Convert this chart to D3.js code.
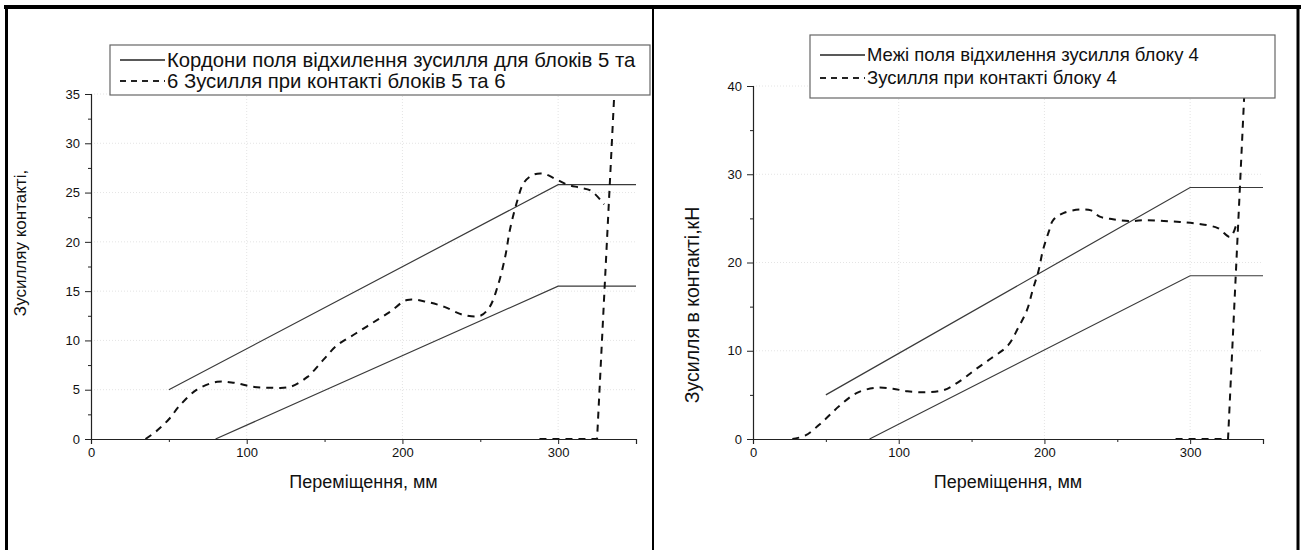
<!DOCTYPE html>
<html>
<head>
<meta charset="utf-8">
<script src="https://cdn.jsdelivr.net/npm/d3@7/dist/d3.min.js"></script>
<style>
  html, body { margin: 0; padding: 0; background: #fff; }
  svg { display: block; font-family: "Liberation Sans", Arial, sans-serif; }
</style>
</head>
<body>
<svg id="chart" width="1305" height="550"></svg>
<script>
// ---------- Left panel: blocks 5 and 6 ----------
const leftUpperX = [50, 300, 350];
const leftUpperY = [5, 25.8, 25.8];
const leftLowerX = [80, 300, 350];
const leftLowerY = [0, 15.5, 15.5];
const leftCurveX = [35, 42, 50, 57, 68, 81, 92, 104, 116, 128, 139, 149, 158, 170, 181, 192, 203, 216, 227, 239, 250, 256, 261, 266, 269, 274, 278, 284, 291, 298, 306, 314, 321, 329.5];
const leftCurveY = [0, 0.8, 2.0, 3.4, 5.0, 5.8, 5.7, 5.3, 5.2, 5.3, 6.3, 8.0, 9.5, 10.7, 11.8, 12.9, 14.1, 13.9, 13.4, 12.6, 12.5, 13.4, 15.4, 18.5, 21.2, 24.3, 26.0, 26.8, 26.9, 26.4, 25.8, 25.5, 25.2, 23.8];
const leftBranchX = [288, 325, 337];
const leftBranchY = [0, 0, 38];
const leftYTicks = [0, 5, 10, 15, 20, 25, 30, 35];
const leftYMinor = [2.5, 7.5, 12.5, 17.5, 22.5, 27.5, 32.5];
const leftLegend = ["Кордони поля відхилення зусилля для блоків 5 та", "6 Зусилля при контакті блоків 5 та 6"];
const leftYTitle = "Зусилляу контакті,";

// ---------- Right panel: block 4 ----------
const rightUpperX = [50, 300, 350];
const rightUpperY = [5, 28.5, 28.5];
const rightLowerX = [80, 300, 350];
const rightLowerY = [0, 18.5, 18.5];
const rightCurveX = [27, 36, 48, 59, 71, 84, 96, 106, 119, 131, 141, 152, 164, 175, 182, 188, 192, 196, 199, 203, 206, 213, 224, 232, 238, 247, 259, 270, 282, 293, 305, 319, 327.5, 332];
const rightCurveY = [0, 0.4, 2, 3.7, 5.2, 5.8, 5.7, 5.4, 5.3, 5.55, 6.45, 7.8, 9.2, 10.6, 12.6, 14.6, 16.9, 19.1, 21.4, 23.5, 24.8, 25.6, 26.0, 25.9, 25.2, 24.9, 24.7, 24.8, 24.7, 24.6, 24.4, 23.9, 22.9, 24.5];
const rightBranchX = [290, 326, 338];
const rightBranchY = [0, 0, 42];
const rightYTicks = [0, 10, 20, 30, 40];
const rightYMinor = [5, 15, 25, 35];
const rightLegend = ["Межі поля відхилення зусилля блоку 4", "Зусилля при контакті блоку 4"];
const rightYTitle = "Зусилля в контакті,кН";

// ---------- Shared x axis ----------
const xTicks = [0, 100, 200, 300];
const xMinor = [50, 150, 250, 350];
const xTitle = "Переміщення, мм";

const zip = (xs, ys) => xs.map((x, i) => [x, ys[i]]);

const svg = d3.select("#chart");
svg.append("rect").attr("width", 1305).attr("height", 550).attr("fill", "#fff");

function drawPanel(p) {
  const x = d3.scaleLinear().domain([0, 350]).range([p.x0, p.x1]);
  const y = d3.scaleLinear().domain([0, p.yMax]).range([p.y0, p.y1]);
  const g = svg.append("g");

  const clipId = "clip-" + p.id;
  svg.append("clipPath").attr("id", clipId)
    .append("rect").attr("x", p.x0 - 2).attr("y", p.y1).attr("width", p.x1 - p.x0 + 4).attr("height", p.y0 - p.y1 + 2);

  // faint dotted grid
  const grid = g.append("g").attr("stroke", "#e4e4e4").attr("stroke-width", 1).attr("stroke-dasharray", "1,2");
  grid.selectAll("line.h").data(p.yTicks.filter(d => d > 0)).join("line")
    .attr("x1", p.x0).attr("x2", p.x1).attr("y1", d => y(d)).attr("y2", d => y(d));
  grid.selectAll("line.v").data(xTicks.filter(d => d > 0)).join("line")
    .attr("y1", p.y0).attr("y2", p.y1).attr("x1", d => x(d)).attr("x2", d => x(d));

  const lin = d3.line().x(d => x(d[0])).y(d => y(d[1]));
  const smooth = d3.line().x(d => x(d[0])).y(d => y(d[1])).curve(d3.curveCatmullRom.alpha(0.5));

  const marks = g.append("g").attr("clip-path", `url(#${clipId})`).attr("fill", "none");
  // deviation band limits
  marks.append("path").datum(zip(p.upperX, p.upperY)).attr("d", lin)
    .attr("stroke", "#3a3a3a").attr("stroke-width", 1.2);
  marks.append("path").datum(zip(p.lowerX, p.lowerY)).attr("d", lin)
    .attr("stroke", "#3a3a3a").attr("stroke-width", 1.2);
  // contact force
  marks.append("path").datum(zip(p.curveX, p.curveY)).attr("d", smooth)
    .attr("stroke", "#111").attr("stroke-width", 2).attr("stroke-dasharray", "7,6");
  marks.append("path").datum(zip(p.branchX, p.branchY)).attr("d", lin)
    .attr("stroke", "#111").attr("stroke-width", 2).attr("stroke-dasharray", "7,6");

  // axes
  g.append("g").attr("transform", `translate(0,${p.y0})`)
    .call(d3.axisBottom(x).tickValues(xTicks).tickSize(5).tickPadding(4).tickFormat(d3.format("d")));
  g.append("g").attr("transform", `translate(0,${p.y0})`)
    .call(d3.axisBottom(x).tickValues(xMinor).tickSize(3).tickFormat(""))
    .call(s => s.select(".domain").remove());
  g.append("g").attr("transform", `translate(${p.x0},0)`)
    .call(d3.axisLeft(y).tickValues(p.yTicks).tickSize(6).tickPadding(5).tickFormat(d3.format("d")));
  g.append("g").attr("transform", `translate(${p.x0},0)`)
    .call(d3.axisLeft(y).tickValues(p.yMinor).tickSize(3).tickFormat(""))
    .call(s => s.select(".domain").remove());
  g.selectAll(".domain").attr("stroke", "#222").attr("stroke-width", 1.2);
  g.selectAll(".tick line").attr("stroke", "#222");
  g.selectAll(".tick text").attr("fill", "#111").style("font-size", "13px")
    .style("font-family", "'Liberation Sans', Arial, sans-serif");

  // axis titles
  g.append("text").attr("x", (p.x0 + p.x1) / 2).attr("y", 488)
    .attr("text-anchor", "middle").attr("font-size", 18).attr("fill", "#111").text(xTitle);
  g.append("text").attr("transform", `translate(${p.ytX},${p.ytY}) rotate(-90)`)
    .attr("text-anchor", "middle").attr("font-size", p.ytFs).attr("fill", "#111").text(p.yTitle);

  // legend
  const L = p.legend;
  const lg = g.append("g");
  lg.append("rect").attr("x", L.x).attr("y", L.y).attr("width", L.w).attr("height", L.h)
    .attr("fill", "#fff").attr("stroke", "#666").attr("stroke-width", 1.2);
  const styles = [null, "6,5"];
  p.legendText.forEach((t, i) => {
    const cy = L.y + L.rows[i];
    lg.append("line").attr("x1", L.x + 10).attr("x2", L.x + 55).attr("y1", cy).attr("y2", cy)
      .attr("stroke", "#222").attr("stroke-width", i ? 1.8 : 1.4)
      .attr("stroke-dasharray", styles[i]);
    lg.append("text").attr("x", L.x + 57).attr("y", cy).attr("dy", "0.35em")
      .attr("font-size", L.fs).attr("fill", "#111").text(t);
  });
}

drawPanel({
  id: "left", x0: 91, x1: 636, y0: 439, y1: 94, yMax: 35,
  yTicks: leftYTicks, yMinor: leftYMinor,
  upperX: leftUpperX, upperY: leftUpperY, lowerX: leftLowerX, lowerY: leftLowerY,
  curveX: leftCurveX, curveY: leftCurveY, branchX: leftBranchX, branchY: leftBranchY,
  yTitle: leftYTitle, ytX: 26, ytY: 243, ytFs: 17,
  legendText: leftLegend,
  legend: { x: 110, y: 45, w: 540, h: 50, rows: [15, 36], fs: 20.3 }
});

drawPanel({
  id: "right", x0: 753, x1: 1263, y0: 439, y1: 86, yMax: 40,
  yTicks: rightYTicks, yMinor: rightYMinor,
  upperX: rightUpperX, upperY: rightUpperY, lowerX: rightLowerX, lowerY: rightLowerY,
  curveX: rightCurveX, curveY: rightCurveY, branchX: rightBranchX, branchY: rightBranchY,
  yTitle: rightYTitle, ytX: 699, ytY: 305, ytFs: 19.5,
  legendText: rightLegend,
  legend: { x: 810, y: 35, w: 465, h: 63, rows: [20, 43], fs: 18.5 }
});

// page frame
const frame = svg.append("g").attr("stroke", "#000").attr("fill", "none");
frame.append("line").attr("x1", 4).attr("x2", 1301).attr("y1", 7).attr("y2", 7).attr("stroke-width", 4);
frame.append("line").attr("x1", 6.5).attr("x2", 6.5).attr("y1", 5).attr("y2", 550).attr("stroke-width", 3);
frame.append("line").attr("x1", 653).attr("x2", 653).attr("y1", 5).attr("y2", 550).attr("stroke-width", 2);
frame.append("line").attr("x1", 1298).attr("x2", 1298).attr("y1", 5).attr("y2", 550).attr("stroke-width", 3);
</script>
</body>
</html>
